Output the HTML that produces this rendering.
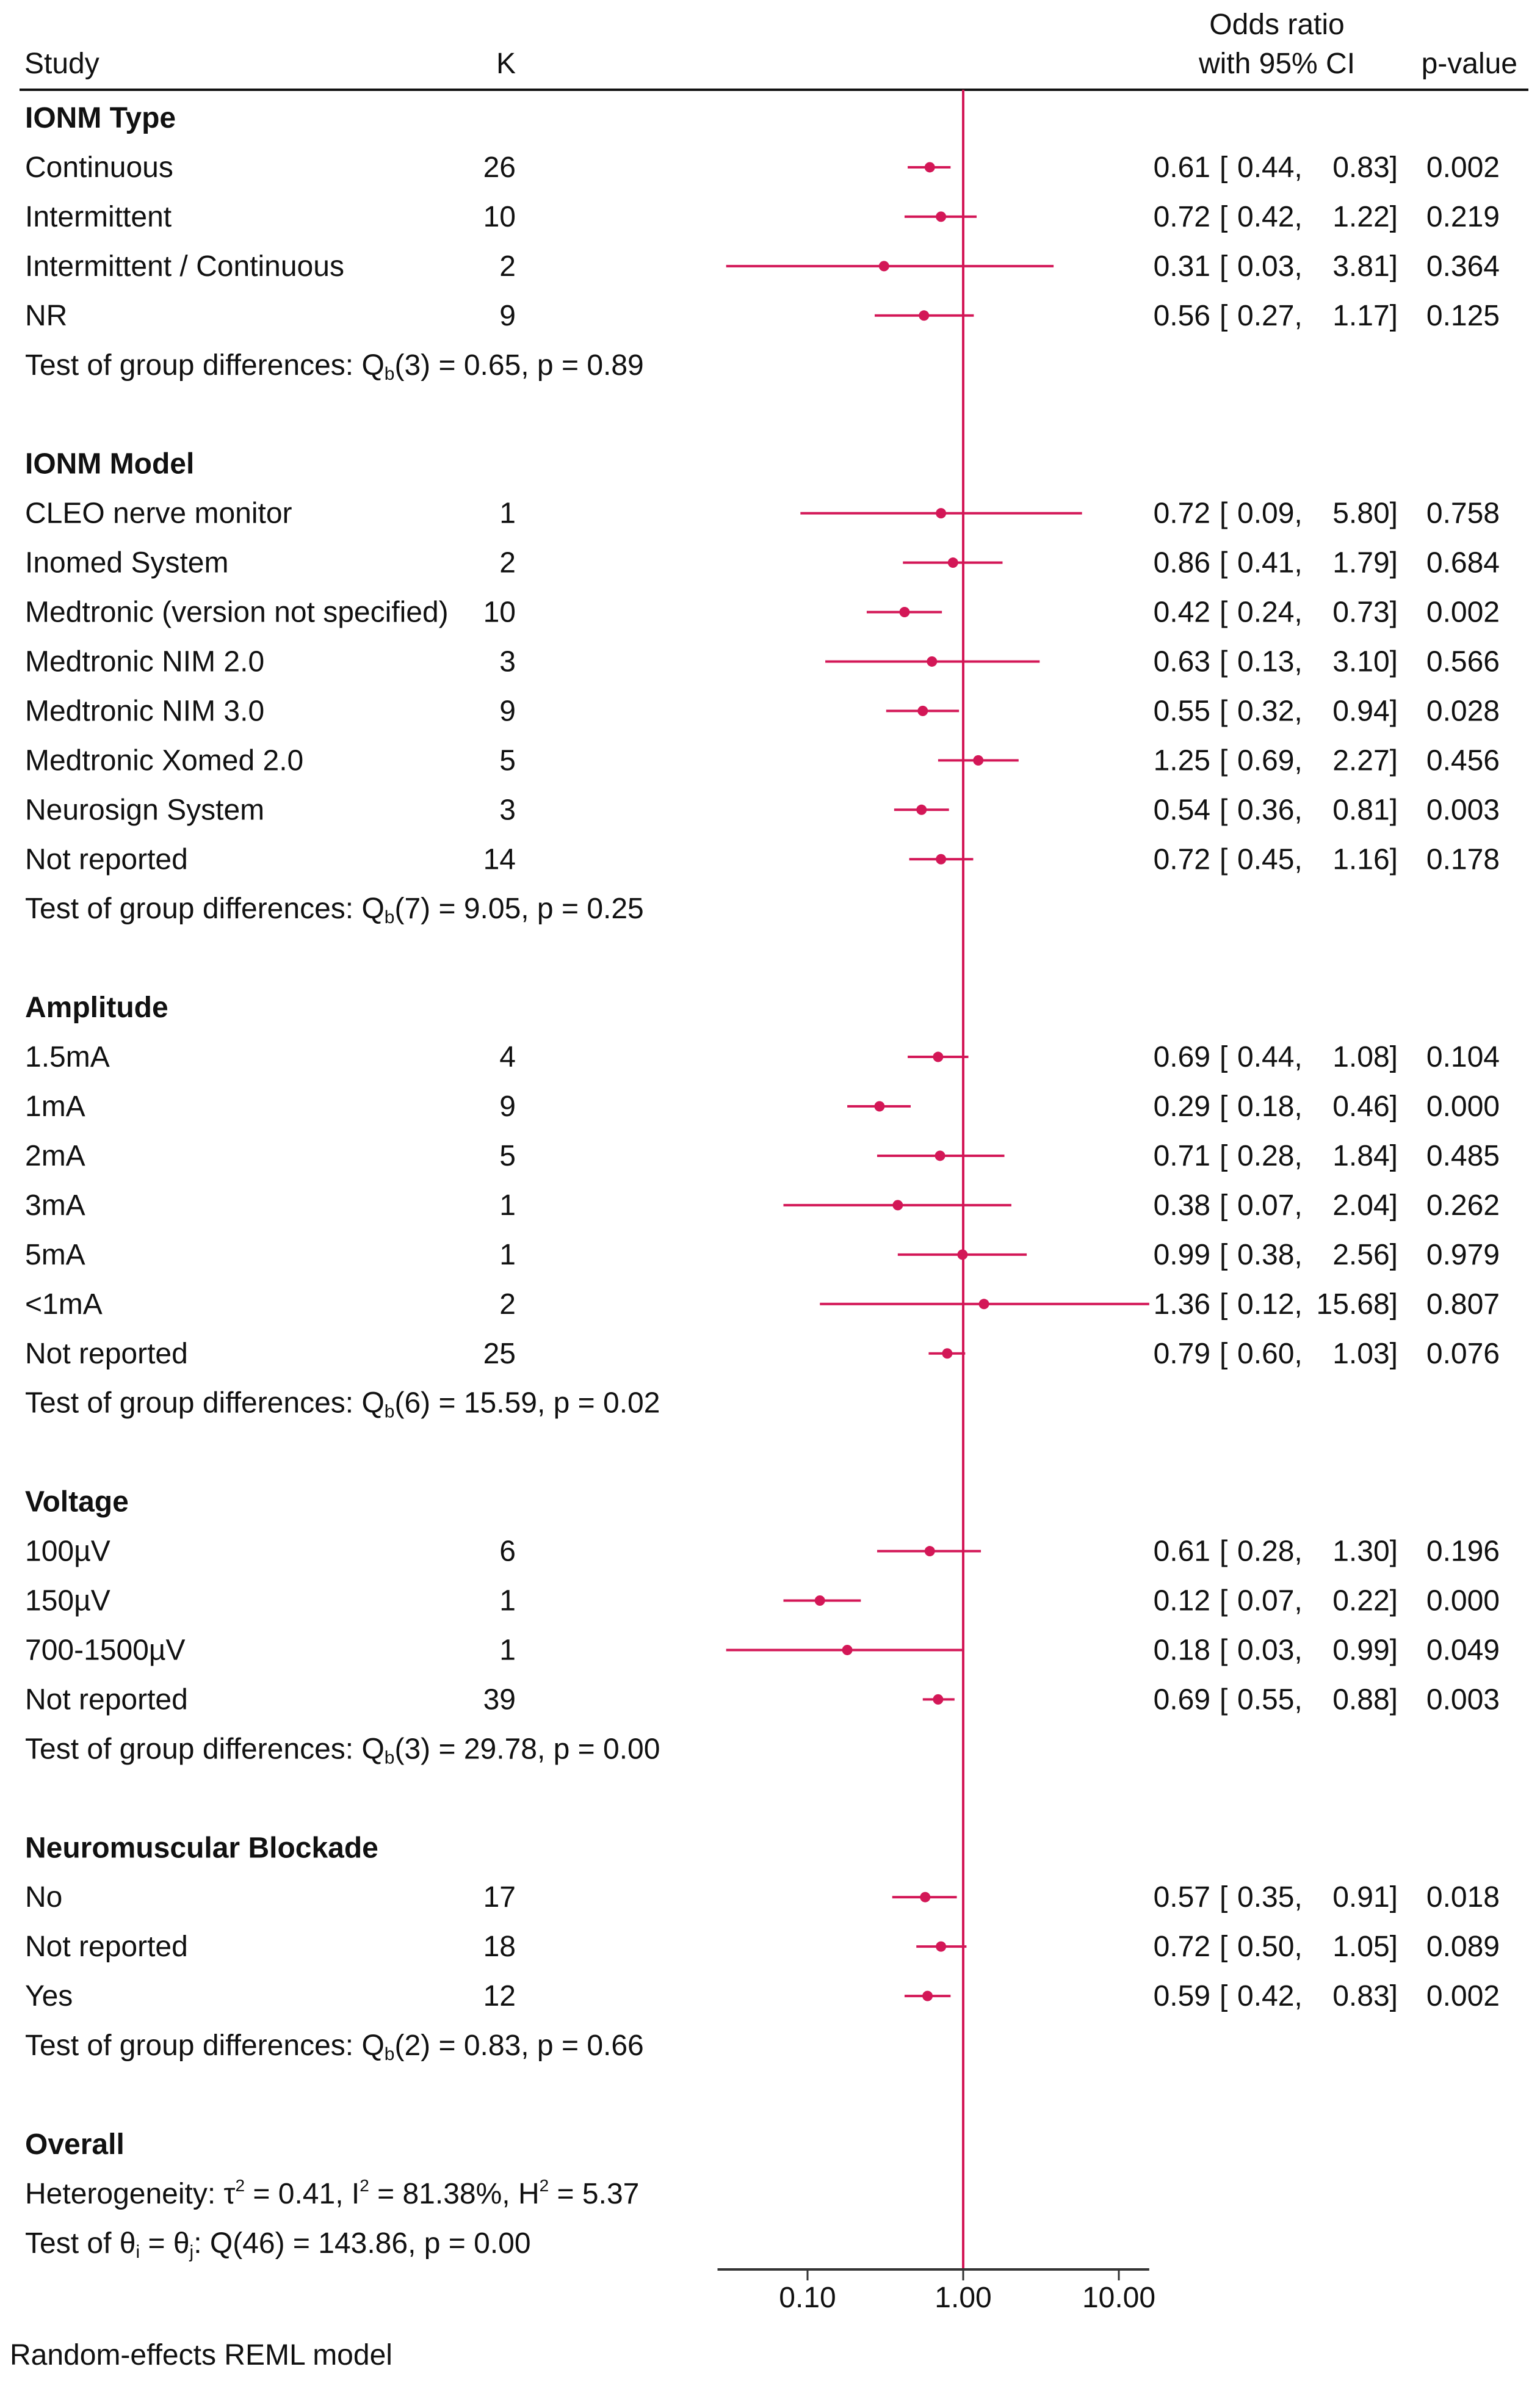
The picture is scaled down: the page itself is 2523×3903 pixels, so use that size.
<!DOCTYPE html>
<html><head><meta charset="utf-8"><style>
html,body{margin:0;padding:0;background:#fff;}
svg{display:block;font-family:"Liberation Sans",Arial,sans-serif;}
text{font-size:48px;fill:#111;}
</style></head><body>
<svg id="chart" width="2523" height="3903" viewBox="0 0 2523 3903" xmlns="http://www.w3.org/2000/svg">
<g id="hdr">
<text x="40" y="120">Study</text>
<text x="845" y="120" text-anchor="end">K</text>
<text x="2092" y="56" text-anchor="middle">Odds ratio</text>
<text x="2092" y="120" text-anchor="middle">with 95% CI</text>
<text x="2486" y="120" text-anchor="end">p-value</text>
<line x1="32" y1="147" x2="2504" y2="147" stroke="#111" stroke-width="4"/>
</g>
<g id="rows"></g>
<g id="axis"></g>
<text x="16" y="3873">Random-effects REML model</text>
</svg>
<script>
const rowLabels = ["IONM Type","Continuous","Intermittent","Intermittent / Continuous","NR","T|3|0.65|0.89","","IONM Model","CLEO nerve monitor","Inomed System","Medtronic (version not specified)","Medtronic NIM 2.0","Medtronic NIM 3.0","Medtronic Xomed 2.0","Neurosign System","Not reported","T|7|9.05|0.25","","Amplitude","1.5mA","1mA","2mA","3mA","5mA","<1mA","Not reported","T|6|15.59|0.02","","Voltage","100µV","150µV","700-1500µV","Not reported","T|3|29.78|0.00","","Neuromuscular Blockade","No","Not reported","Yes","T|2|0.83|0.66","","Overall","H","Q"];
const rowKinds = "hsssst_hsssssssst_hssssssst_hsssst_hssst_hxx";
const kValues = [26,10,2,9,1,2,10,3,9,5,3,14,4,9,5,1,1,2,25,6,1,1,39,17,18,12];
const orValues = [0.61,0.72,0.31,0.56,0.72,0.86,0.42,0.63,0.55,1.25,0.54,0.72,0.69,0.29,0.71,0.38,0.99,1.36,0.79,0.61,0.12,0.18,0.69,0.57,0.72,0.59];
const ciLow = [0.44,0.42,0.03,0.27,0.09,0.41,0.24,0.13,0.32,0.69,0.36,0.45,0.44,0.18,0.28,0.07,0.38,0.12,0.60,0.28,0.07,0.03,0.55,0.35,0.50,0.42];
const ciHigh = [0.83,1.22,3.81,1.17,5.80,1.79,0.73,3.10,0.94,2.27,0.81,1.16,1.08,0.46,1.84,2.04,2.56,15.68,1.03,1.30,0.22,0.99,0.88,0.91,1.05,0.83];
const pValues = ["0.002","0.219","0.364","0.125","0.758","0.684","0.002","0.566","0.028","0.456","0.003","0.178","0.104","0.000","0.485","0.262","0.979","0.807","0.076","0.196","0.000","0.049","0.003","0.018","0.089","0.002"];
const tickValues = [0.1,1,10];
const tickLabels = ["0.10","1.00","10.00"];
const axisRange = [0.0264,15.68];

const NS="http://www.w3.org/2000/svg", COL="#d31757";
const xScale = v => 1578 + 255*Math.log10(v);
const yRow = i => 193 + 80.95*i;
const rows = document.getElementById('rows'), axis = document.getElementById('axis');
function mk(tag, attrs, parent, txt){const e=document.createElementNS(NS,tag);for(const k in attrs)e.setAttribute(k,attrs[k]);if(txt!==undefined)e.textContent=txt;parent.appendChild(e);return e;}
function tspan(parent, txt, extra){const t=document.createElementNS(NS,'tspan');for(const k in (extra||{}))t.setAttribute(k,extra[k]);t.textContent=txt;parent.appendChild(t);return t;}

const ref = mk('line',{x1:xScale(1),y1:147,x2:xScale(1),y2:3717,stroke:COL,'stroke-width':4},axis);


const ax = mk('line',{x1:xScale(axisRange[0]),y1:3717,x2:xScale(axisRange[1]),y2:3717,stroke:'#333','stroke-width':4},axis);


tickValues.forEach((v,i)=>{
  const t = mk('line',{x1:xScale(v),y1:3717,x2:xScale(v),y2:3735,stroke:'#333','stroke-width':3},axis);
  
  
  const l = mk('text',{x:xScale(v),y:3779,'text-anchor':'middle'},axis,tickLabels[i]);
  
  
});

let si = 0;
rowLabels.forEach((lab,i)=>{
  const kind = rowKinds[i], cy = yRow(i), by = cy+16;
  if(kind==='_') return;
  if(kind==='h'){
    const t = mk('text',{x:41,y:by,'font-weight':'bold'},rows,lab);
    
    
  } else if(kind==='t'){
    const p = lab.split('|');
    const t = mk('text',{x:41,y:by},rows);
    
    
    tspan(t,'Test of group differences: Q');
    tspan(t,'b',{'font-size':'30','dy':'8'});
    tspan(t,'('+p[1]+') = '+p[2]+', p = '+p[3],{'dy':'-8'});
  } else if(kind==='x'){
    const t = mk('text',{x:41,y:by},rows);
    if(lab==='H'){
      
      
      tspan(t,'Heterogeneity: τ'); tspan(t,'2',{'font-size':'28','dy':'-20'});
      tspan(t,' = 0.41, I',{'dy':'20'}); tspan(t,'2',{'font-size':'28','dy':'-20'});
      tspan(t,' = 81.38%, H',{'dy':'20'}); tspan(t,'2',{'font-size':'28','dy':'-20'});
      tspan(t,' = 5.37',{'dy':'20'});
    } else {
      
      
      tspan(t,'Test of θ'); tspan(t,'i',{'font-size':'30','dy':'8'});
      tspan(t,' = θ',{'dy':'-8'}); tspan(t,'j',{'font-size':'30','dy':'8'});
      tspan(t,': Q(46) = 143.86, p = 0.00',{'dy':'-8'});
    }
  } else {
    const j = si++;
    const g = mk('g',{},rows);
    
    
    const a = mk('text',{x:41,y:by},g,lab);
    
    
    const k = mk('text',{x:845,y:by,'text-anchor':'end'},g,String(kValues[j]));
    
    
    const ci = mk('line',{x1:xScale(ciLow[j]),y1:cy,x2:xScale(ciHigh[j]),y2:cy,stroke:COL,'stroke-width':4},g);
    
    
    const dot = mk('circle',{cx:xScale(orValues[j]),cy:cy,r:8.5,fill:COL},g);
    
    
    const e = mk('text',{x:1983,y:by,'text-anchor':'end'},g,orValues[j].toFixed(2));
    
    
    const b = mk('text',{x:1998,y:by},g,'[');
    
    
    const lo = mk('text',{x:2027,y:by},g,ciLow[j].toFixed(2)+',');
    
    
    const hi = mk('text',{x:2290,y:by,'text-anchor':'end'},g,ciHigh[j].toFixed(2)+']');
    
    
    const pv = mk('text',{x:2457,y:by,'text-anchor':'end'},g,pValues[j]);
    
    
  }
});
</script>
</body></html>
